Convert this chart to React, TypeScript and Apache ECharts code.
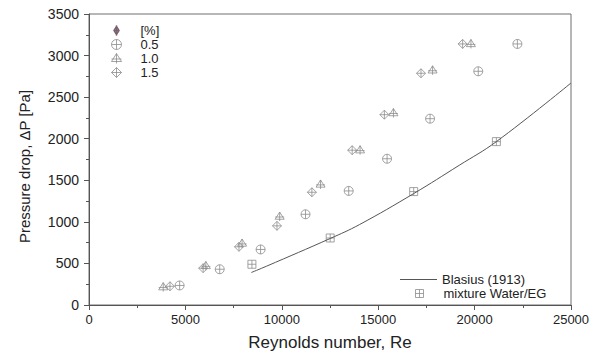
import React, { useEffect, useRef } from "react";
import * as echarts from "echarts";

// Reynolds number / pressure drop readings for each concentration [%]
const re05 = [4700, 6780, 8900, 11230, 13470, 15460, 17690, 20190, 22220];
const dp05 = [235, 430, 668, 1091, 1372, 1759, 2241, 2811, 3140];

const re10 = [3850, 6060, 7940, 9890, 12010, 14060, 15790, 17820, 19810];
const dp10 = [215, 470, 740, 1064, 1450, 1862, 2309, 2823, 3140];

const re15 = [4200, 5920, 7780, 9750, 11560, 13650, 15320, 17220, 19380];
const dp15 = [225, 443, 700, 952, 1356, 1862, 2289, 2787, 3140];

const reMix = [8450, 12510, 16840, 21130];
const dpMix = [490, 806, 1364, 1965];

const reBlasius = [8420, 9200, 12510, 14020, 16840, 19200, 21130, 25000];
const dpBlasius = [391, 466, 800, 966, 1340, 1680, 1965, 2670];

const xTicks = [0, 5000, 10000, 15000, 20000, 25000];
const yTicks = [0, 500, 1000, 1500, 2000, 2500, 3000, 3500];

const pairs = (xs: number[], ys: number[]) => xs.map((x, i) => [x, ys[i]]);

const SYM_CIRCLE =
  "path://M0,5 A5,5 0 1,1 10,5 A5,5 0 1,1 0,5 Z M0,5 L10,5 M5,0 L5,10";
const SYM_TRI = "path://M5,0 L10,8 L0,8 Z M5,0 L5,10 M0,5.5 L10,5.5";
const SYM_DIAMOND = "path://M5,0 L10,5 L5,10 L0,5 Z M0,5 L10,5 M5,0 L5,10";
const SYM_SQUARE = "path://M0,0 L10,0 L10,10 L0,10 Z M0,5 L10,5 M5,0 L5,10";
const SYM_HEAD = "path://M3,0 L6,5 L3,10 L0,5 Z M0,5 L6,5 M3,-1 L3,11";

const MARK = "#8c8c8c";
const HEAD = "#5a3a4c";
const FONT = "'Liberation Sans', Arial, sans-serif";

export default function App() {
  const ref = useRef<HTMLDivElement>(null);
  useEffect(() => {
    document.body.style.margin = "0";
    if (!ref.current) return;
    const chart = echarts.init(ref.current, undefined, { renderer: "svg" });
    const markStyle = { color: "transparent", borderColor: MARK, borderWidth: 1 };
    const legendText = { fontSize: 13, color: "#222", fontFamily: FONT };
    chart.setOption({
      animation: false,
      backgroundColor: "#ffffff",
      textStyle: { fontFamily: FONT },
      grid: {
        left: 89,
        right: 30,
        top: 14,
        bottom: 47,
        show: true,
        borderColor: "#6e6e6e",
        borderWidth: 1,
      },
      xAxis: {
        type: "value",
        min: xTicks[0],
        max: xTicks[xTicks.length - 1],
        interval: 5000,
        name: "Reynolds number, Re",
        nameLocation: "middle",
        nameGap: 29,
        nameTextStyle: { fontSize: 17, color: "#222", fontFamily: FONT },
        axisLine: { lineStyle: { color: "#555", width: 1 } },
        axisTick: { length: 5, lineStyle: { color: "#555" } },
        minorTick: { show: true, splitNumber: 2, length: 3, lineStyle: { color: "#555" } },
        splitLine: { show: false },
        axisLabel: {
          fontSize: 13,
          color: "#222",
          margin: 8,
          fontFamily: FONT,
          formatter: (v: number) => String(v),
        },
      },
      yAxis: {
        type: "value",
        min: yTicks[0],
        max: yTicks[yTicks.length - 1],
        interval: 500,
        name: "Pressure drop, \u0394P [Pa]",
        nameLocation: "middle",
        nameGap: 57,
        nameRotate: 90,
        nameTextStyle: { fontSize: 15, color: "#222", fontFamily: FONT, padding: [0, 14, 0, 0] },
        axisLine: { lineStyle: { color: "#555", width: 1 } },
        axisTick: { length: 5, lineStyle: { color: "#555" } },
        minorTick: { show: true, splitNumber: 2, length: 3, lineStyle: { color: "#555" } },
        splitLine: { show: false },
        axisLabel: {
          fontSize: 14,
          color: "#222",
          margin: 10,
          fontFamily: FONT,
          formatter: (v: number) => String(v),
        },
      },
      legend: [
        {
          orient: "vertical",
          left: 111,
          top: 24,
          padding: 0,
          itemGap: 1,
          itemWidth: 10,
          itemHeight: 10,
          textStyle: { ...legendText, padding: [0, 0, 0, 14] },
          data: [
            {
              name: "[%]",
              icon: SYM_HEAD,
              itemStyle: { color: "transparent", borderColor: HEAD, borderWidth: 1.5 },
            },
            { name: "0.5", icon: SYM_CIRCLE, itemStyle: markStyle },
            { name: "1.0", icon: SYM_TRI, itemStyle: markStyle },
            { name: "1.5", icon: SYM_DIAMOND, itemStyle: markStyle },
          ],
        },
        {
          orient: "vertical",
          left: 400,
          top: 273,
          padding: 0,
          itemWidth: 37,
          itemHeight: 1.2,
          textStyle: { ...legendText },
          data: [
            {
              name: "Blasius (1913)",
              icon: "rect",
              itemStyle: { color: "#555", borderWidth: 0 },
            },
          ],
        },
        {
          orient: "vertical",
          left: 415,
          top: 287,
          padding: 0,
          itemWidth: 8,
          itemHeight: 8,
          textStyle: { ...legendText, padding: [0, 0, 0, 15] },
          data: [{ name: "mixture Water/EG", icon: SYM_SQUARE, itemStyle: markStyle }],
        },
      ],
      series: [
        {
          name: "[%]",
          type: "scatter",
          data: [],
          symbol: SYM_HEAD,
          symbolKeepAspect: true,
          itemStyle: { color: "transparent", borderColor: HEAD, borderWidth: 1.5 },
        },
        {
          name: "Blasius (1913)",
          type: "line",
          data: pairs(reBlasius, dpBlasius),
          smooth: 0.4,
          symbol: "none",
          showSymbol: false,
          lineStyle: { color: "#555", width: 1 },
          itemStyle: { color: "#555" },
        },
        {
          name: "0.5",
          type: "scatter",
          data: pairs(re05, dp05),
          symbol: SYM_CIRCLE,
          symbolSize: 9,
          symbolKeepAspect: true,
          itemStyle: markStyle,
        },
        {
          name: "1.0",
          type: "scatter",
          data: pairs(re10, dp10),
          symbol: SYM_TRI,
          symbolSize: 9,
          symbolKeepAspect: true,
          itemStyle: markStyle,
        },
        {
          name: "1.5",
          type: "scatter",
          data: pairs(re15, dp15),
          symbol: SYM_DIAMOND,
          symbolSize: 9,
          symbolKeepAspect: true,
          itemStyle: markStyle,
        },
        {
          name: "mixture Water/EG",
          type: "scatter",
          data: pairs(reMix, dpMix),
          symbol: SYM_SQUARE,
          symbolSize: 8,
          symbolKeepAspect: true,
          itemStyle: markStyle,
        },
      ],
    });
    return () => chart.dispose();
  }, []);
  return <div ref={ref} style={{ width: 601, height: 356 }} />;
}
